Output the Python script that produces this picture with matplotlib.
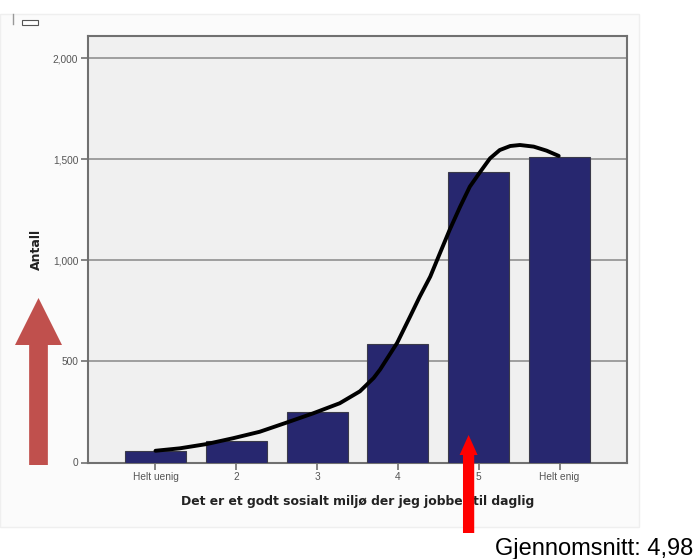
import matplotlib
matplotlib.use("Agg")
import matplotlib.pyplot as plt
from matplotlib.patches import Rectangle, FancyArrow

# data
categories = ["Helt uenig", "2", "3", "4", "5", "Helt enig"]
counts = [55, 107, 251, 586, 1438, 1512]
y_ticks = [0, 500, 1000, 1500, 2000]
y_tick_labels = ["0", "500", "1,000", "1,500", "2,000"]

# hand drawn trend curve (x in category units, y in counts)
curve_x = [0.0, 0.30, 0.63, 0.96, 1.29, 1.62, 1.95, 2.28, 2.53, 2.70, 2.78,
           2.99, 3.15, 3.27, 3.40, 3.52, 3.64, 3.77, 3.89, 4.02, 4.14, 4.26,
           4.39, 4.51, 4.68, 4.84, 4.99]
curve_y = [58, 70, 91, 120, 152, 197, 243, 293, 352, 418, 460,
           591, 721, 820, 919, 1035, 1150, 1265, 1364, 1438, 1504, 1545,
           1565, 1570, 1562, 1542, 1516]

mean_text = "Gjennomsnitt: 4,98"

W, H = 698, 559
fig = plt.figure(figsize=(W / 100, H / 100), dpi=100)
fig.patch.set_facecolor("white")

# faint panel behind the chart
fig.patches.append(Rectangle((0, 1 - 527 / H), 639 / W, (527 - 14) / H,
                             transform=fig.transFigure, facecolor="#fbfbfb",
                             edgecolor="#efefef", lw=1, zorder=-5))

ax = fig.add_axes([88 / W, 1 - 462.5 / H, (627 - 88) / W, (462.5 - 36) / H])
ax.set_facecolor("#f0f0f0")

x = list(range(len(categories)))
ax.bar(x, counts, width=0.755, color="#27276f", edgecolor="#3a3a4a", lw=0.8, zorder=3)
ax.plot(curve_x, curve_y, color="black", lw=2.8, solid_capstyle="round",
        solid_joinstyle="round", zorder=4)

ax.set_xlim(-0.835, 5.835)
ax.set_ylim(0, 2109)
ax.set_yticks(y_ticks)
ax.set_yticklabels(y_tick_labels)
ax.set_xticks(x)
ax.set_xticklabels(categories)
for y in y_ticks[1:]:
    ax.axhline(y, color="#888888", lw=1.1, zorder=1)

for s in ax.spines.values():
    s.set_color("#707070")
    s.set_linewidth(1.5)
ax.tick_params(axis="both", direction="out", length=5, width=1.2, color="#707070",
               labelsize=7.3, labelcolor="#555555", pad=2)
for lab in ax.get_xticklabels() + ax.get_yticklabels():
    lab.set_family("Liberation Sans")

ax.set_xlabel("Det er et godt sosialt miljø der jeg jobber til daglig",
              fontsize=8.9, fontweight="bold", family="DejaVu Sans",
              color="#222222", labelpad=9)
ax.set_ylabel("Antall", fontsize=9, fontweight="bold", family="DejaVu Sans",
              color="#222222", labelpad=7)

# arrows drawn on top
fig.patches.append(FancyArrow(38.5 / W, 1 - 465 / H, 0, (465 - 298) / H,
                              width=15 / H, head_width=47 / W, head_length=47 / H,
                              length_includes_head=True, transform=fig.transFigure,
                              color="#c0504d", lw=0, zorder=10))
fig.patches.append(FancyArrow(468.6 / W, 1 - 533 / H, 0, (533 - 435) / H,
                              width=9 / H, head_width=18 / W, head_length=20 / H,
                              length_includes_head=True, transform=fig.transFigure,
                              color="#ff0000", lw=0, zorder=10))

fig.text(693 / W, 1 - 555 / H, mean_text, ha="right", va="baseline",
         fontsize=17, family="Liberation Sans", color="black", zorder=10)

# small window icon at top left
fig.lines.append(plt.Line2D([13 / W, 13 / W], [1 - 14 / H, 1 - 24 / H],
                            transform=fig.transFigure, color="#999999", lw=1))
fig.patches.append(Rectangle((22 / W, 1 - 25 / H), 16 / W, 5 / H,
                             transform=fig.transFigure, facecolor="white",
                             edgecolor="#555555", lw=0.8))

fig.savefig("out.png", dpi=100)
